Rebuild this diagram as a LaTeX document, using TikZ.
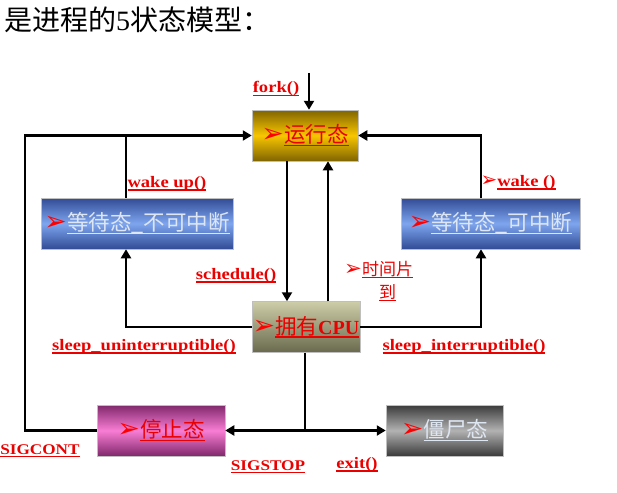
\documentclass[tikz,border=0pt]{standalone}
\usepackage{fontspec}
\setmainfont{Liberation Serif}
\newfontfamily\cjk{Noto Sans CJK SC}
\newfontfamily\dv{DejaVu Sans}
\newfontfamily\labfont{Liberation Serif Bold}[FakeStretch=1.16]
\newfontfamily\cpufont{Liberation Serif Bold}
\usetikzlibrary{arrows.meta}
\definecolor{lred}{RGB}{235,0,0}
\definecolor{gdark}{RGB}{128,100,0}
\definecolor{glight}{RGB}{248,198,0}
\definecolor{bdark}{RGB}{50,75,150}
\definecolor{blight}{RGB}{125,165,238}
\definecolor{ctop}{RGB}{205,205,168}
\definecolor{cbot}{RGB}{105,105,78}
\definecolor{pdark}{RGB}{128,40,108}
\definecolor{plight}{RGB}{248,125,212}
\definecolor{zdark}{RGB}{58,58,58}
\definecolor{zlight}{RGB}{178,178,178}
\definecolor{ltext}{RGB}{222,230,242}
\newcommand\ulx[1]{\setbox0\hbox{#1}\rlap{\rule[-0.17em]{\wd0}{0.07em}}\box0}
\newcommand\tipx{{\dv\color{red}\scalebox{1.25}{➢}}}
\begin{document}
\begin{tikzpicture}[x=1pt,y=-1pt,
  box/.style={draw=black!25, line width=0.5pt, inner sep=0pt, minimum height=51pt,
    font=\fontsize{21.5}{24}\selectfont},
  lab/.style={text=lred, font=\labfont\fontsize{16}{19}\selectfont, inner sep=0pt},
  caplab/.style={lab, font=\labfont\fontsize{14.8}{18}\selectfont},
  conn/.style={line width=2.5pt, black},
  arr/.style={conn, -{Triangle[length=9pt,width=10pt]}}]
\useasboundingbox (0,0) rectangle (617,492);

\node[anchor=west, inner sep=0pt, font=\cjk\fontsize{28}{30}\selectfont] (title) at (4,20)
  {是进程的{\rmfamily 5}状态模型：};

\node[box, minimum width=106pt, top color=gdark, bottom color=gdark, middle color=glight]
  (run) at (305,135.5) {\tipx\textcolor{lred}{\ulx{\cjk 运行态}}};
\node[box, minimum width=192pt, top color=bdark, bottom color=bdark, middle color=blight]
  (wait1) at (137,223.5) {\tipx\textcolor{ltext}{\ulx{\cjk 等待态\_不可中断}}};
\node[box, minimum width=179pt, top color=bdark, bottom color=bdark, middle color=blight]
  (wait2) at (490.5,223.5) {\tipx\textcolor{ltext}{\ulx{\cjk 等待态\_可中断}}};
\node[box, minimum width=108pt, top color=ctop, bottom color=cbot]
  (cpu) at (306,327) {\tipx\textcolor{lred}{\ulx{{\cjk 拥有}\cpufont\fontsize{20}{24}\selectfont CPU}}};
\node[box, minimum width=128pt, top color=pdark, bottom color=pdark, middle color=plight]
  (stop) at (161,430.5) {\tipx\textcolor{lred}{\ulx{\cjk 停止态}}};
\node[box, minimum width=117pt, top color=zdark, bottom color=zdark, middle color=zlight]
  (zomb) at (444.5,430.5) {\tipx\textcolor{ltext}{\ulx{\cjk 僵尸态}}};

\coordinate (forkstart) at (309,73);
\coordinate (L) at (25,0);
\coordinate (WL) at (126,0);
\coordinate (WR) at (481,0);
\coordinate (SX) at (287,0);
\coordinate (TX) at (328,0);
\coordinate (BX) at (305,0);

\draw[arr] (forkstart) -- (forkstart |- run.north);
\draw[arr] (stop.west) -| (L |- run.west) -- (run.west);
\draw[conn] (wait1.north -| WL) -- (WL |- run.west);
\draw[arr] (wait2.north -| WR) -- (WR |- run.east) -- (run.east);
\draw[arr] (run.south -| SX) -- (cpu.north -| SX);
\draw[arr] (cpu.north -| TX) -- (run.south -| TX);
\draw[arr] (cpu.west) -| (wait1.south -| WL);
\draw[arr] (cpu.east) -| (wait2.south -| WR);
\draw[conn] (cpu.south -| BX) -- (BX |- stop.east);
\draw[arr] (BX |- stop.east) -- (stop.east);
\draw[arr] (BX |- zomb.west) -- (zomb.west);

\node[lab] (lfork) at (276,89) {\ulx{fork()}};
\node[lab] (lwake1) at (167,184) {\ulx{wake up()}};
\node[lab] (lwake2) at (518,183) {\tipx\ulx{wake ()}};
\node[lab] (lsched) at (236,276) {\ulx{schedule()}};
\node[lab, anchor=north west, font=\cjk\fontsize{17}{20}\selectfont] (ltime) at (344,261)
  {\tipx\begin{tabular}[t]{@{}c@{}}\ulx{时间片}\\[3pt]\ulx{到}\end{tabular}};
\node[lab] (lsu) at (144,347) {\ulx{sleep\_uninterruptible()}};
\node[lab] (lsi) at (464,347) {\ulx{sleep\_interruptible()}};
\node[caplab] (lcont) at (40,451) {\ulx{SIGCONT}};
\node[caplab] (lstop) at (268,467) {\ulx{SIGSTOP}};
\node[lab] (lexit) at (357,465) {\ulx{exit()}};
\end{tikzpicture}
\end{document}
